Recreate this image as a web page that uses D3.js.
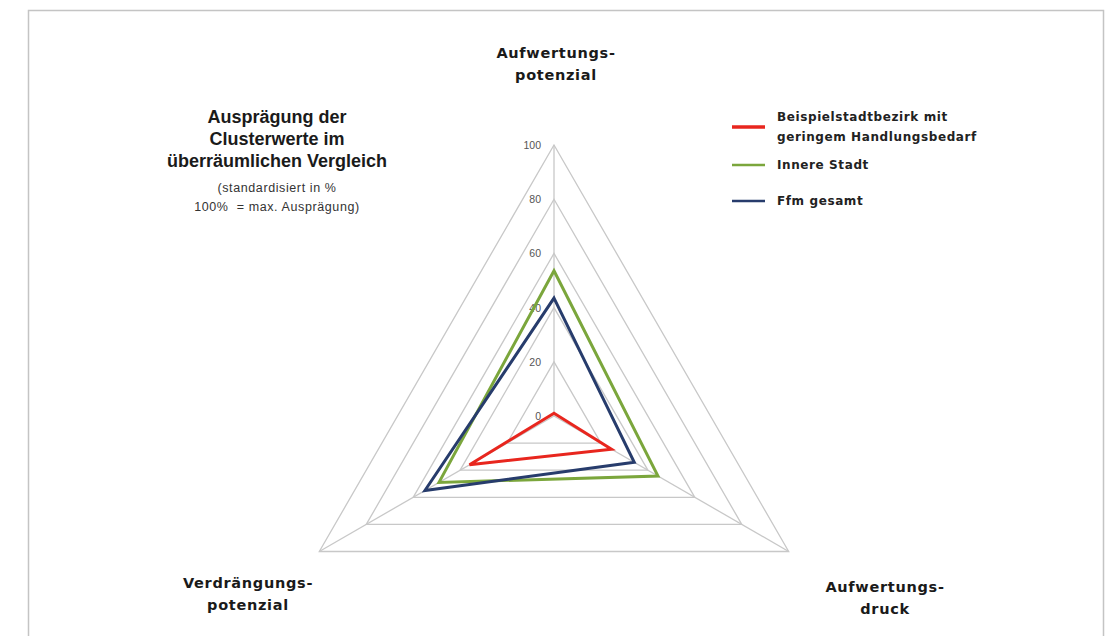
<!DOCTYPE html>
<html>
<head>
<meta charset="utf-8">
<script src="https://cdn.jsdelivr.net/npm/d3@7"></script>
<style>
  html, body { margin: 0; padding: 0; background: #fff; }
  svg { display: block; font-family: "Liberation Sans", Arial, sans-serif; }
  text { white-space: pre; }
</style>
</head>
<body>
<svg id="chart" width="1107" height="636"></svg>
<script>
// ---- data ----
const axes = ["Aufwertungspotenzial", "Aufwertungsdruck", "Verdrängungspotenzial"];
const axisLabels = [["Aufwertungs-", "potenzial"], ["Aufwertungs-", "druck"], ["Verdrängungs-", "potenzial"]];
const seriesNames = ["Beispielstadtbezirk mit geringem Handlungsbedarf", "Innere Stadt", "Ffm gesamt"];
const beispielValues = [1, 24.5, 36];
const innereStadtValues = [53.6, 44.3, 49];
const ffmValues = [43.5, 34.2, 55];
const tickValues = [0, 20, 40, 60, 80, 100];
const titleLines = ["Ausprägung der", "Clusterwerte im", "überräumlichen Vergleich"];
const subtitleLines = ["(standardisiert in %", "100%  = max. Ausprägung)"];

const series = [
  { name: seriesNames[0], values: beispielValues, color: "#e8261e", legend: ["Beispielstadtbezirk mit", "geringem Handlungsbedarf"] },
  { name: seriesNames[1], values: innereStadtValues, color: "#7ba63c", legend: ["Innere Stadt"] },
  { name: seriesNames[2], values: ffmValues, color: "#273c6c", legend: ["Ffm gesamt"] }
];

// ---- layout ----
const svg = d3.select("#chart");
const cx = 554, cy = 416, R = 271;

// frame
svg.append("path")
  .attr("d", "M28.5,636 L28.5,10.5 L1103.5,10.5 L1103.5,636")
  .attr("fill", "none").attr("stroke", "#c4c4c4").attr("stroke-width", 1.5);

const r = d3.scaleLinear().domain([0, 100]).range([0, R]);
const angle = d3.scaleBand().domain(axes).range([0, 2 * Math.PI]).paddingInner(0).paddingOuter(0);
const ang = a => angle(a);

const g = svg.append("g").attr("transform", `translate(${cx},${cy})`);

// grid rings
const ringLine = d3.lineRadial().curve(d3.curveLinearClosed)
  .angle(d => ang(d.axis)).radius(d => r(d.v));
tickValues.filter(t => t > 0).forEach(t => {
  g.append("path")
    .attr("d", ringLine(axes.map(a => ({ axis: a, v: t }))))
    .attr("fill", "none").attr("stroke", "#c8c8c8").attr("stroke-width", 1.3);
});

// spokes
axes.forEach(a => {
  const end = d3.pointRadial(ang(a), r(100));
  g.append("line").attr("x1", 0).attr("y1", 0).attr("x2", end[0]).attr("y2", end[1])
    .attr("stroke", "#c8c8c8").attr("stroke-width", 1.3);
});

// tick labels along top axis
tickValues.forEach(t => {
  g.append("text")
    .attr("x", -13).attr("y", -r(t) + 4)
    .attr("text-anchor", "end")
    .attr("font-size", 10.5).attr("fill", "#555")
    .text(t);
});

// series
const seriesLine = d3.lineRadial().curve(d3.curveLinearClosed)
  .angle((d, i) => ang(axes[i])).radius(d => r(d));
series.forEach(s => {
  g.append("path")
    .attr("d", seriesLine(s.values))
    .attr("fill", "none").attr("stroke", s.color).attr("stroke-width", 3)
    .attr("stroke-linejoin", "miter");
});

// axis labels
const labelPos = [[556, 58], [885, 592], [248, 588]];
axisLabels.forEach((lines, i) => {
  const t = svg.append("text")
    .attr("text-anchor", "middle").attr("font-family", "'DejaVu Sans', sans-serif")
    .attr("font-size", 14.5).attr("font-weight", "bold").attr("letter-spacing", 0.7)
    .attr("fill", "#1a1a1a");
  lines.forEach((l, j) => {
    t.append("tspan").attr("x", labelPos[i][0]).attr("y", labelPos[i][1] + j * 22).text(l);
  });
});

// title
const title = svg.append("text").attr("text-anchor", "middle")
  .attr("font-size", 18).attr("font-weight", "bold").attr("fill", "#1a1a1a");
titleLines.forEach((l, j) => {
  title.append("tspan").attr("x", 277).attr("y", 123 + j * 22).text(l);
});
const sub = svg.append("text").attr("text-anchor", "middle")
  .attr("font-size", 12.5).attr("letter-spacing", 0.6).attr("fill", "#333");
subtitleLines.forEach((l, j) => {
  sub.append("tspan").attr("x", 277).attr("y", 192 + j * 19).text(l);
});

// legend
const legendLineY = [127, 165, 201];
const legendTextY = [[121, 141], [169], [205]];
series.forEach((s, i) => {
  svg.append("line").attr("x1", 732).attr("x2", 765).attr("y1", legendLineY[i]).attr("y2", legendLineY[i])
    .attr("stroke", s.color).attr("stroke-width", s.legend.length > 1 ? 3.5 : 2.5);
  const t = svg.append("text").attr("font-family", "'DejaVu Sans', sans-serif")
    .attr("font-size", 12).attr("font-weight", "bold").attr("letter-spacing", 0.6).attr("fill", "#222");
  s.legend.forEach((l, j) => {
    t.append("tspan").attr("x", 777).attr("y", legendTextY[i][j]).text(l);
  });
});
</script>
</body>
</html>
